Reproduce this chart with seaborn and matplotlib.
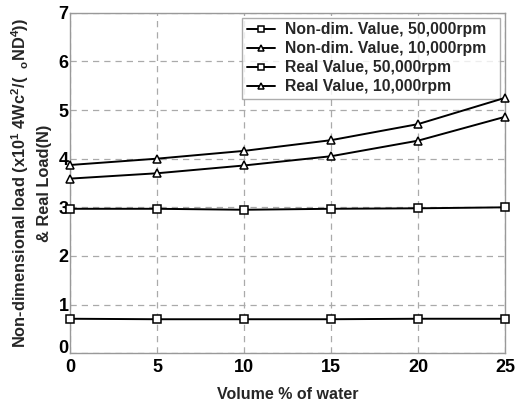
import matplotlib
matplotlib.use("Agg")
import matplotlib.pyplot as plt
import seaborn as sns
import pandas as pd

# Volume fraction of water (%)
water_pct = [0, 5, 10, 15, 20, 25]

# Load values per series
nondim_50k = [2.97, 2.97, 2.95, 2.97, 2.98, 3.00]
nondim_10k = [3.87, 4.00, 4.16, 4.38, 4.71, 5.25]
real_50k = [0.71, 0.70, 0.70, 0.70, 0.71, 0.71]
real_10k = [3.59, 3.70, 3.86, 4.05, 4.37, 4.86]

series_names = [
    "Non-dim. Value, 50,000rpm",
    "Non-dim. Value, 10,000rpm",
    "Real Value, 50,000rpm",
    "Real Value, 10,000rpm",
]
series_values = [nondim_50k, nondim_10k, real_50k, real_10k]
series_markers = ["s", "^", "s", "^"]

x_ticks = [0, 5, 10, 15, 20, 25]
y_ticks = [0, 1, 2, 3, 4, 5, 6, 7]

sns.set_theme(style="white")
plt.rcParams["font.family"] = ["Liberation Sans", "DejaVu Sans"]
plt.rcParams["font.weight"] = "bold"
plt.rcParams["mathtext.fontset"] = "custom"
plt.rcParams["mathtext.rm"] = "Liberation Sans:bold"
plt.rcParams["mathtext.it"] = "Liberation Sans:bold"
plt.rcParams["mathtext.bf"] = "Liberation Sans:bold"

frames = []
for name, vals in zip(series_names, series_values):
    frames.append(pd.DataFrame({"water": water_pct, "load": vals, "series": name}))
df = pd.concat(frames, ignore_index=True)

fig = plt.figure(figsize=(5.15, 4.01), dpi=100)
ax = fig.add_axes([70 / 515, (401 - 353.3) / 401, 435 / 515, (353.3 - 12.7) / 401])

sns.lineplot(
    data=df, x="water", y="load", hue="series", style="series",
    hue_order=series_names, style_order=series_names,
    palette=["black"] * 4, dashes=False, markers=series_markers,
    markersize=5.5, markerfacecolor="white", markeredgecolor="black",
    markeredgewidth=1.1, linewidth=1.4, ax=ax, zorder=3,
)
for ln in ax.lines:
    ln.set_clip_on(False)

ax.set_xlim(0, 25)
ax.set_ylim(0, 7)
ax.set_xticks(x_ticks)
ax.set_yticks(y_ticks)
ax.tick_params(axis="both", length=0, labelsize=13, colors="black")
ax.tick_params(axis="x", pad=4)
ax.tick_params(axis="y", pad=1)
for lbl in ax.get_xticklabels() + ax.get_yticklabels():
    lbl.set_fontweight("bold")
ax.get_yticklabels()[0].set_verticalalignment("baseline")

ax.grid(True, color="#aaaaaa", linestyle=(0, (5, 4)), linewidth=0.9)
for sp in ax.spines.values():
    sp.set_color("#999999")
    sp.set_linewidth(1.0)

ax.set_xlabel("Volume % of water", fontsize=11.5, fontweight="bold", labelpad=8)
ax.set_ylabel(
    "Non-dimensional load (x10$^{1}$ 4Wc$^{2}$/(  $_{o}$ND$^{4}$))\n& Real Load(N)",
    fontsize=11.8, fontweight="bold", labelpad=5, linespacing=1.45,
)

leg = ax.legend(
    loc="upper left", bbox_to_anchor=(0.3954, 0.7545, 0.593, 0.2308),
    mode="expand", fontsize=11.3,
    frameon=True, fancybox=False, borderpad=0.3, labelspacing=0.25,
    handlelength=1.8, handletextpad=0.65, borderaxespad=0.0,
)
leg.set_zorder(2)
leg.get_frame().set_edgecolor("#999999")
leg.get_frame().set_linewidth(1.0)
for t in leg.get_texts():
    t.set_fontweight("bold")
for h in leg.legend_handles:
    h.set_markersize(4.5)

fig.savefig("out.png", dpi=100)
